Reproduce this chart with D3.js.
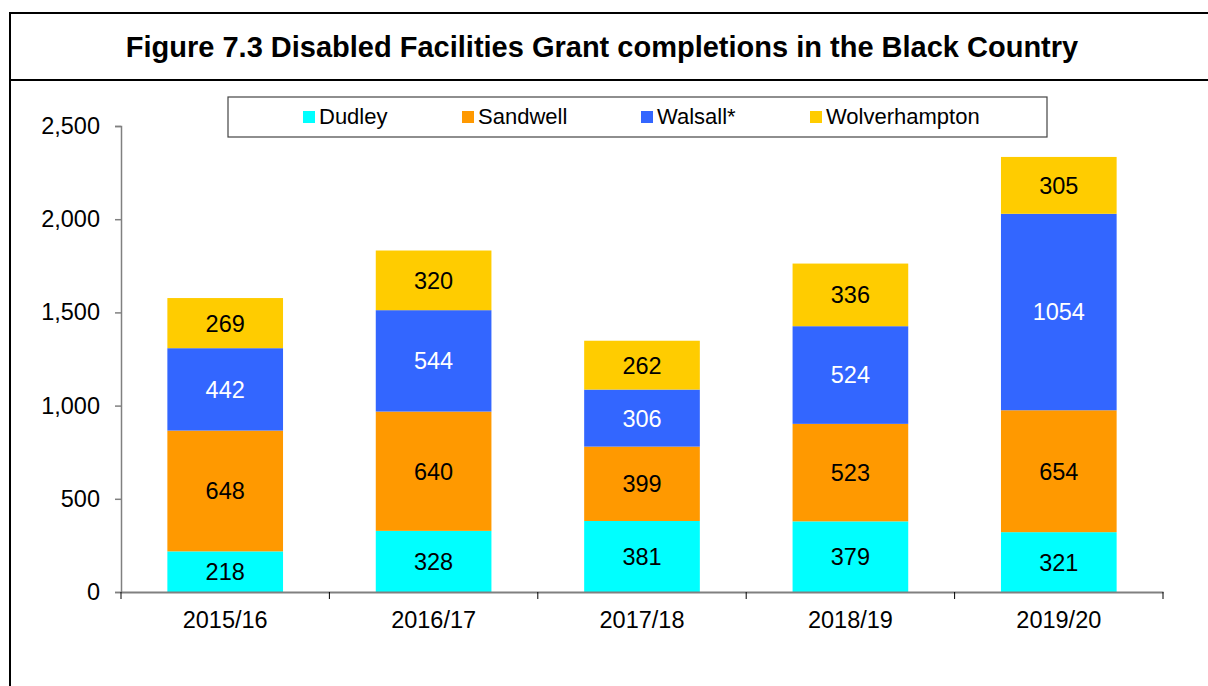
<!DOCTYPE html>
<html lang="en">
  <head>
    <meta charset="UTF-8" />
    <title>Disabled Facilities Grant completions</title>
    <style>
      body { margin: 0; background: #fff; }
      svg { font-family: Arial, "Liberation Sans", sans-serif; display: block; }
    </style>
  </head>
  <body>
    <div id="chart"></div>
    <script src="https://d3js.org/d3.v7.min.js"></script>
    <script>
      // data
      const years = ["2015/16", "2016/17", "2017/18", "2018/19", "2019/20"];
      const areas = ["Dudley", "Sandwell", "Walsall*", "Wolverhampton"];
      const dudley = [218, 328, 381, 379, 321];
      const sandwell = [648, 640, 399, 523, 654];
      const walsall = [442, 544, 306, 524, 1054];
      const wolverhampton = [269, 320, 262, 336, 305];
      const yTicks = [0, 500, 1000, 1500, 2000, 2500];

      const colours = ["#00ffff", "#ff9900", "#3366ff", "#ffcc00"];
      const labelColours = ["#000", "#000", "#fff", "#000"];
      const fontFam = "Arial, 'Liberation Sans', sans-serif";

      const width = 1208, height = 686;
      const rows = years.map((y, i) => ({
        year: y,
        Dudley: dudley[i],
        Sandwell: sandwell[i],
        "Walsall*": walsall[i],
        Wolverhampton: wolverhampton[i]
      }));

      const svg = d3.select("#chart").append("svg")
        .attr("width", width)
        .attr("height", height);

      // outer frame + title strip
      svg.append("rect")
        .attr("x", 10).attr("y", 13)
        .attr("width", 1210).attr("height", 700)
        .attr("fill", "none").attr("stroke", "#000").attr("stroke-width", 2);
      svg.append("line")
        .attr("x1", 10).attr("x2", width).attr("y1", 80).attr("y2", 80)
        .attr("stroke", "#000").attr("stroke-width", 2);
      svg.append("text")
        .attr("x", 602).attr("y", 57)
        .attr("text-anchor", "middle")
        .style("font-weight", "bold").style("font-size", "29px")
        .text("Figure 7.3 Disabled Facilities Grant completions in the Black Country");

      const x = d3.scaleBand().domain(years).range([121, 1163]).paddingInner(0.445).paddingOuter(0.2225);
      const y = d3.scaleLinear().domain([0, 2500]).range([592, 126]);

      const stack = d3.stack().keys(areas)(rows);

      const layer = svg.append("g").selectAll("g")
        .data(stack).join("g")
        .attr("fill", (d, i) => colours[i]);

      layer.selectAll("rect")
        .data(d => d).join("rect")
        .attr("x", d => x(d.data.year))
        .attr("width", x.bandwidth())
        .attr("y", d => y(d[1]))
        .attr("height", d => y(d[0]) - y(d[1]));

      const labels = svg.append("g").selectAll("g")
        .data(stack).join("g")
        .attr("fill", (d, i) => labelColours[i]);

      labels.selectAll("text")
        .data(d => d).join("text")
        .attr("x", d => x(d.data.year) + x.bandwidth() / 2)
        .attr("y", d => (y(d[0]) + y(d[1])) / 2)
        .attr("dy", "0.36em")
        .attr("text-anchor", "middle")
        .style("font-size", "23.5px")
        .text(d => d[1] - d[0]);

      // y axis
      const yAxis = svg.append("g")
        .attr("transform", "translate(121,0)")
        .call(d3.axisLeft(y).tickValues(yTicks).tickFormat(d3.format(",")).tickSize(6).tickPadding(15));
      yAxis.selectAll("path, line").attr("stroke", "#808080").attr("stroke-width", 1.5);
      yAxis.selectAll("text").style("font-size", "23.5px").attr("fill", "#000")
        .style("font-family", fontFam);

      // x axis: ticks sit between categories
      const xAxis = svg.append("g")
        .attr("transform", "translate(0,592)")
        .call(d3.axisBottom(x).tickSize(0).tickPadding(19));
      xAxis.select(".domain").attr("stroke", "#808080").attr("stroke-width", 2);
      xAxis.selectAll("text").style("font-size", "23.5px").attr("fill", "#000")
        .style("font-family", fontFam);
      const bounds = years.map(d => x(d) - x.step() * x.paddingInner() / 2).concat([1163]);
      xAxis.selectAll(".sep")
        .data(bounds).join("line")
        .attr("class", "sep")
        .attr("x1", d => d).attr("x2", d => d)
        .attr("y1", 0).attr("y2", 7)
        .attr("stroke", "#000").attr("stroke-width", 1);

      // legend
      const legend = svg.append("g");
      legend.append("rect")
        .attr("x", 228).attr("y", 97)
        .attr("width", 819).attr("height", 40)
        .attr("fill", "#fff").attr("stroke", "#444").attr("stroke-width", 1.2);
      const legendX = [303, 462, 641, 810];
      const item = legend.selectAll("g.item")
        .data(areas).join("g")
        .attr("class", "item")
        .attr("transform", (d, i) => `translate(${legendX[i]},0)`);
      item.append("rect")
        .attr("y", 111).attr("width", 12).attr("height", 12)
        .attr("fill", (d, i) => colours[i]);
      item.append("text")
        .attr("x", 16).attr("y", 124)
        .style("font-size", "22px")
        .text(d => d);
    </script>
  </body>
</html>
